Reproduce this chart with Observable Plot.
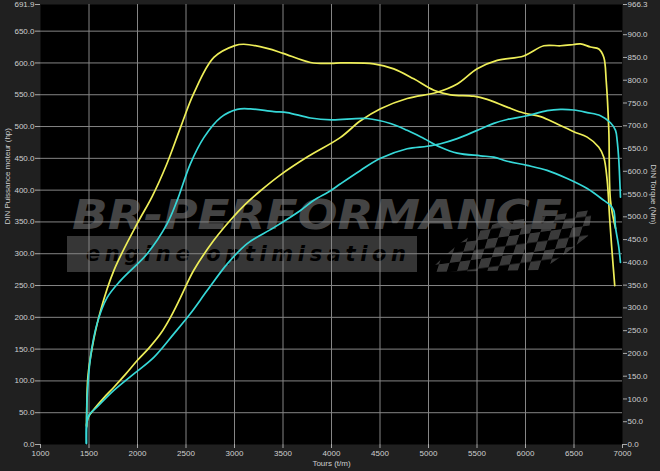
<!DOCTYPE html>
<html>
<head>
<meta charset="utf-8">
<script src="https://cdn.jsdelivr.net/npm/d3@7"></script>
<script src="https://cdn.jsdelivr.net/npm/@observablehq/plot@0.6"></script>
<style>
html, body { margin: 0; padding: 0; background: #202020; }
#chart { width: 660px; height: 471px; overflow: hidden; }
</style>
</head>
<body>
<div id="chart"></div>
<script>
// ---- labels & ticks ----
const xLabel = "Tours (t/m)";
const yLeftLabel = "DIN Puissance moteur (hp)";
const yRightLabel = "DIN Torque (Nm)";
const watermarkTitle = "BR-Performance";
const watermarkSub = "engine optimisation";
const hpMax = 691.9;
const nmMax = 966.3;
const rpmTicks = [1000, 1500, 2000, 2500, 3000, 3500, 4000, 4500, 5000, 5500, 6000, 6500, 7000];
const hpTicks = [0, 50, 100, 150, 200, 250, 300, 350, 400, 450, 500, 550, 600, 650, 691.9];
const nmTicks = [0, 50, 100, 150, 200, 250, 300, 350, 400, 450, 500, 550, 600, 650, 700, 750, 800, 850, 900, 966.3];

// ---- yellow power (hp) ----
const yellowPowerRpm = [1476, 1480, 1500, 1549, 1650, 1756, 1880, 1997, 2120, 2237, 2340, 2443, 2580, 2787, 2959, 3113, 3268, 3474, 3749, 4093, 4299, 4505, 4780, 5090, 5296, 5502, 5708, 5982, 6189, 6361, 6498, 6567, 6670, 6756, 6807, 6832, 6859, 6876, 6928];
const yellowPowerHp  = [28, 36, 45, 55, 73, 90, 111, 132, 152, 174, 200, 231, 274, 321, 353, 378, 399, 424, 452, 483, 509, 528, 544, 554, 567, 591, 604, 611, 627, 627, 629, 630, 625, 622, 609, 572, 494, 384, 340];

// ---- yellow torque (Nm) ----
const yellowTorqueRpm = [1474, 1476, 1488, 1533, 1619, 1756, 1997, 2152, 2300, 2443, 2580, 2787, 3003, 3096, 3337, 3502, 3783, 4000, 4093, 4436, 4642, 4848, 5055, 5227, 5467, 5605, 5811, 5982, 6155, 6327, 6498, 6636, 6756, 6807, 6842, 6869, 6894, 6920];
const yellowTorqueNm  = [42, 70, 147, 213, 294, 382, 485, 545, 615, 696, 771, 850, 876, 879, 870, 859, 839, 837, 838, 836, 825, 803, 778, 768, 765, 758, 741, 728, 720, 704, 687, 675, 653, 631, 580, 492, 419, 349];

// ---- cyan power (hp) ----
const cyanPowerRpm = [1473, 1476, 1500, 1584, 1756, 1962, 2168, 2374, 2546, 2718, 2925, 3131, 3405, 3680, 3818, 3990, 4093, 4299, 4505, 4780, 4986, 5124, 5296, 5502, 5673, 5811, 6017, 6223, 6361, 6498, 6636, 6773, 6876, 6928, 6945, 6962, 6972, 6979];
const cyanPowerHp  = [2, 33, 46, 59, 85, 111, 137, 174, 206, 242, 284, 316, 341, 368, 384, 399, 410, 431, 450, 465, 469, 473, 481, 494, 505, 511, 517, 525, 527, 526, 522, 517, 506, 494, 478, 447, 415, 389];

// ---- cyan torque (Nm) ----
const cyanTorqueRpm = [1473, 1476, 1481, 1515, 1584, 1688, 1825, 2100, 2306, 2409, 2546, 2684, 2856, 3028, 3165, 3405, 3543, 3784, 4000, 4368, 4608, 4780, 4952, 5124, 5296, 5536, 5673, 5811, 6017, 6223, 6430, 6636, 6808, 6876, 6910, 6928, 6962, 6979];
const cyanTorqueNm  = [2, 53, 103, 191, 266, 323, 360, 419, 485, 536, 617, 674, 718, 736, 737, 731, 729, 717, 713, 716, 705, 690, 672, 653, 640, 634, 631, 622, 613, 602, 584, 562, 536, 525, 514, 477, 433, 400];

// torque is drawn against the right axis: map Nm into the hp scale
const k = hpMax / nmMax;
const toRows = (xs, ys, f = 1) => xs.map((x, i) => ({rpm: x, v: ys[i] * f}));
const yellowPower = toRows(yellowPowerRpm, yellowPowerHp);
const yellowTorque = toRows(yellowTorqueRpm, yellowTorqueNm, k);
const cyanPower = toRows(cyanPowerRpm, cyanPowerHp);
const cyanTorque = toRows(cyanTorqueRpm, cyanTorqueNm, k);

const YELLOW = "#eeee58";
const CYAN = "#36d8d8";
const GRID = "#858585";
const lineOpts = {x: "rpm", y: "v", strokeWidth: 1.7, curve: "catmull-rom"};

const plot = Plot.plot({
  width: 660,
  height: 471,
  marginLeft: 40,
  marginRight: 38,
  marginTop: 4,
  marginBottom: 27,
  style: {background: "#202020", color: "#cfcfcf", fontFamily: "'Liberation Sans', Arial, sans-serif", fontSize: "8px"},
  x: {domain: [1000, 7000]},
  y: {domain: [0, hpMax]},
  marks: [
    Plot.frame({fill: "black", stroke: "none"}),
    Plot.gridX(rpmTicks.slice(1, -1), {stroke: GRID, strokeOpacity: 1}),
    Plot.gridY(hpTicks.slice(1, -1), {stroke: GRID, strokeOpacity: 1}),
    Plot.axisX(rpmTicks, {tickFormat: d => String(d), tickSize: 4, tickPadding: 2, label: null, stroke: "#aaa"}),
    Plot.axisY(hpTicks, {anchor: "left", tickFormat: d => d.toFixed(1), tickSize: 5, tickPadding: 1, label: null, stroke: "#aaa"}),
    Plot.axisY(nmTicks.map(v => v * k), {anchor: "right", tickFormat: v => (v / k).toFixed(1), tickSize: 4, tickPadding: 1, label: null, stroke: "#aaa"}),
    Plot.text([xLabel], {text: d => d, frameAnchor: "bottom", dy: 21, fill: "#cfcfcf"}),
    Plot.text([yLeftLabel], {text: d => d, frameAnchor: "left", dx: -33, rotate: -90, fill: "#cfcfcf"}),
    Plot.text([yRightLabel], {text: d => d, frameAnchor: "right", dx: 31, rotate: 90, fill: "#cfcfcf"}),
    Plot.line(yellowTorque, {...lineOpts, stroke: YELLOW}),
    Plot.line(yellowPower, {...lineOpts, stroke: YELLOW}),
    Plot.line(cyanTorque, {...lineOpts, stroke: CYAN}),
    Plot.line(cyanPower, {...lineOpts, stroke: CYAN})
  ]
});

document.getElementById("chart").appendChild(plot);

// ---- watermark (decoration behind the grid) ----
const svg = d3.select(plot);
const frame = plot.querySelector('[aria-label="frame"]');
const wm = document.createElementNS("http://www.w3.org/2000/svg", "g");
frame.parentNode.insertBefore(wm, frame.nextSibling);
const g = d3.select(wm).attr("aria-label", "watermark").attr("text-anchor", "start");

const defs = svg.insert("defs", ":first-child");
const pat = defs.append("pattern").attr("id", "checks").attr("patternUnits", "userSpaceOnUse")
  .attr("width", 20).attr("height", 20).attr("patternTransform", "skewX(-25) rotate(-8)");
pat.append("rect").attr("width", 10).attr("height", 10).attr("fill", "#3a3a3a");
pat.append("rect").attr("x", 10).attr("y", 10).attr("width", 10).attr("height", 10).attr("fill", "#3a3a3a");

g.append("rect").attr("x", 67).attr("y", 236).attr("width", 350).attr("height", 36).attr("fill", "#363636");
g.append("path")
  .attr("d", "M428,272 C450,250 470,232 500,222 L592,210 L588,236 C570,250 555,262 540,270 Z")
  .attr("fill", "url(#checks)");
g.append("text").text(watermarkTitle)
  .attr("x", 72).attr("y", 229)
  .attr("text-anchor", "start")
  .attr("textLength", 490).attr("lengthAdjust", "spacingAndGlyphs")
  .attr("fill", "#444")
  .style("font-family", "'DejaVu Sans', sans-serif").style("font-weight", "bold")
  .style("font-style", "italic").style("font-size", "40px").style("text-transform", "uppercase");
g.append("text").text(watermarkSub)
  .attr("x", 86).attr("y", 261)
  .attr("text-anchor", "start")
  .attr("textLength", 320).attr("lengthAdjust", "spacing")
  .attr("fill", "#000")
  .style("font-family", "'DejaVu Sans', sans-serif").style("font-weight", "bold")
  .style("font-style", "italic").style("font-size", "21px");
</script>
</body>
</html>
